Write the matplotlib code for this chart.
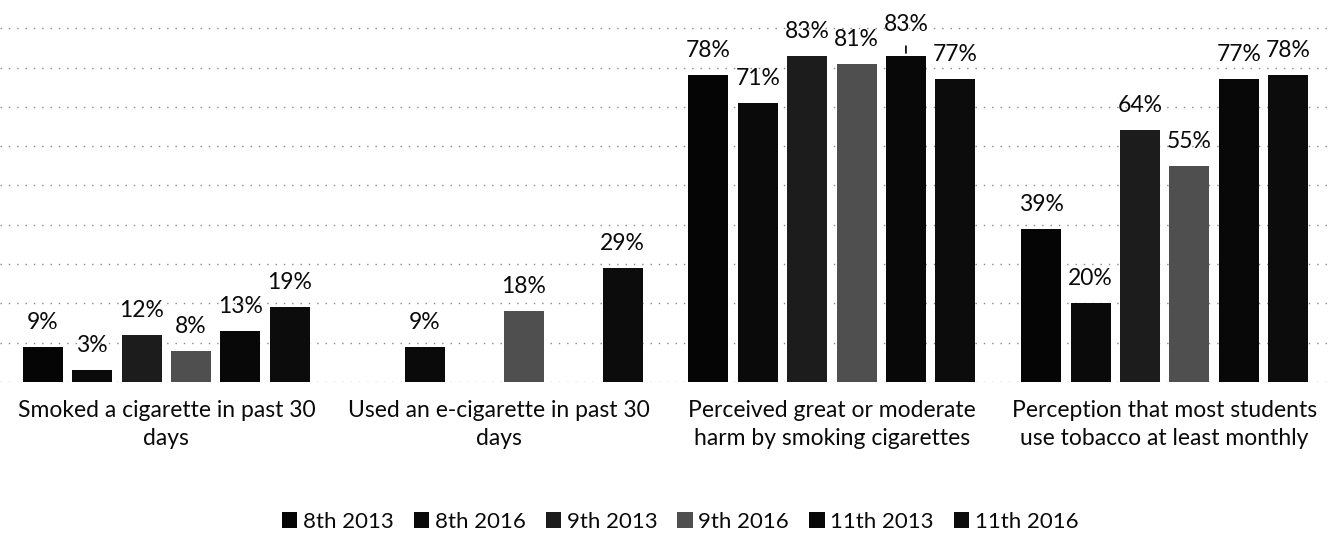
import numpy as np
import matplotlib
matplotlib.use("Agg")
import matplotlib.pyplot as plt
from matplotlib.patches import Patch

plt.rcParams['font.family'] = ['Lato', 'DejaVu Sans']

categories = [
    "Smoked a cigarette in past 30\ndays",
    "Used an e-cigarette in past 30\ndays",
    "Perceived great or moderate\nharm by smoking cigarettes",
    "Perception that most students\nuse tobacco at least monthly",
]
series_names = ["8th 2013", "8th 2016", "9th 2013", "9th 2016", "11th 2013", "11th 2016"]
grade8_2013 = [9, np.nan, 78, 39]
grade8_2016 = [3, 9, 71, 20]
grade9_2013 = [12, np.nan, 83, 64]
grade9_2016 = [8, 18, 81, 55]
grade11_2013 = [13, np.nan, 83, 77]
grade11_2016 = [19, 29, 77, 78]
series_values = [grade8_2013, grade8_2016, grade9_2013, grade9_2016, grade11_2013, grade11_2016]

colors = ["#050505", "#0a0a0a", "#1c1c1c", "#4f4f4f", "#080808", "#0c0c0c"]

fig = plt.figure(figsize=(13.44, 5.37), dpi=100)
ax = fig.add_axes([0.0, 1 - 382 / 537, 1331 / 1344, 382 / 537])

x = np.arange(len(categories))
pitch = 0.1484
width = 0.12
label_size = 16.5

for i, (name, vals) in enumerate(zip(series_names, series_values)):
    pos = x + (i - 2.5) * pitch
    vals = np.array(vals, dtype=float)
    ok = ~np.isnan(vals)
    ax.bar(pos[ok], vals[ok], width=width, color=colors[i], zorder=3)
    for j, (p, v) in zip(np.flatnonzero(ok), zip(pos[ok], vals[ok])):
        lift = 13
        # the 11th-2013 harm label sits a little higher, joined to its bar by a leader line
        if name == "11th 2013" and j == 2:
            lift = 18
            ax.annotate("", xy=(p, v), xytext=(0, 9), textcoords="offset points",
                        arrowprops=dict(arrowstyle="-", color="black", lw=1.2),
                        zorder=4)
        ax.annotate(f"{v:.0f}%", xy=(p, v), xytext=(0, lift), textcoords="offset points",
                    ha="center", va="baseline", fontsize=label_size, color="#0a0a0a")

ax.set_xlim(-0.5, 3.5)
ax.set_ylim(0, 97.2)
ax.set_yticks(np.arange(0, 100, 10))
ax.yaxis.grid(True, color="#8a8a8a", linestyle=(0, (1, 5)), linewidth=1.0, zorder=0)
ax.tick_params(axis="y", left=False, labelleft=False)
ax.set_xticks(x)
ax.set_xticklabels(categories, fontsize=label_size, linespacing=1.4, color="#0a0a0a")
ax.tick_params(axis="x", length=0, pad=13)
for s in ax.spines.values():
    s.set_visible(False)

handles = [Patch(facecolor=c, edgecolor="none") for c in colors]
fig.legend(handles, series_names, loc="center", bbox_to_anchor=(0.506, 0.028),
           ncol=6, frameon=False, fontsize=16, handlelength=0.7, handleheight=0.7,
           handletextpad=0.25, columnspacing=0.9, labelcolor="#0a0a0a")

fig.savefig("out.png", dpi=100, facecolor="white")
